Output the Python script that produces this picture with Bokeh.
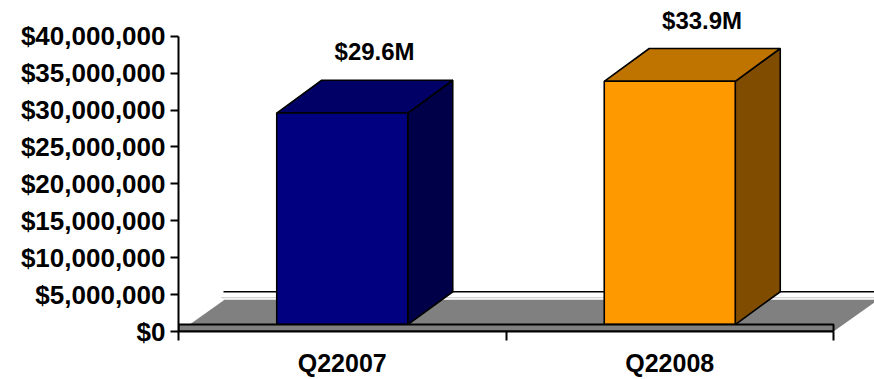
from bokeh.plotting import figure
from bokeh.models import Range1d, FixedTicker, NumeralTickFormatter
from bokeh.core.properties import value
from bokeh.embed import file_html
from bokeh.resources import INLINE

# ---- data ----
categories = ["Q22007", "Q22008"]
revenue = [29.6e6, 33.9e6]
value_labels = ["$29.6M", "$33.9M"]
y_ticks = [0, 5e6, 10e6, 15e6, 20e6, 25e6, 30e6, 35e6, 40e6]

# ---- style ----
front_colors = ["#000080", "#FF9900"]
top_colors = ["#000066", "#C07400"]
side_colors = ["#000048", "#804C00"]
FONT = "Liberation Sans"
PX_X = 327.5          # px per category unit
PX_Y = 297 / 40e6     # px per dollar
DX = 45 / PX_X        # depth offset in x units
DY = 33 / PX_Y        # depth offset in dollars
FLOOR = 7 / PX_Y      # floor slab thickness
BAR_W = 0.4
LABEL_GAP = 2.0e6

W, H = 874, 379
LEFT, BOTTOM = 178, 46
p = figure(width=W, height=H, output_backend="svg", toolbar_location=None,
           min_border_left=LEFT, min_border_right=0, min_border_top=0, min_border_bottom=BOTTOM)
p.x_range = Range1d(0, (W - LEFT) / PX_X)
p.y_range = Range1d(0, (H - BOTTOM) / PX_Y)
p.xgrid.visible = False
p.ygrid.visible = False
p.outline_line_color = None
p.background_fill_color = "white"
p.border_fill_color = "white"

n = len(categories)
xmax = p.x_range.end

# floor top face (gray)
p.patch([0, DX, xmax + DX, n + DX, n], [0, 4.31e6, 4.31e6, 4.31e6, 0],
        fill_color="#808080", line_color=None)
p.line([DX * 0.95, xmax], [4.58e6, 4.58e6], line_color="#C8C8C8", line_width=1)
p.line([DX, xmax], [FLOOR + DY, FLOOR + DY], line_color="black", line_width=1.5)
p.line([0.005, DX], [0.15e6, 4.31e6], line_color="white", line_width=1.2)

# bars
for i in range(n):
    xl = i + 0.5 - BAR_W / 2
    xr = i + 0.5 + BAR_W / 2
    v = revenue[i]
    # side face
    p.patch([xr, xr + DX, xr + DX, xr], [FLOOR, FLOOR + DY, v + DY, v],
            fill_color=side_colors[i], line_color="black", line_width=1.6)
    # top face
    p.patch([xl, xr, xr + DX, xl + DX], [v, v, v + DY, v + DY],
            fill_color=top_colors[i], line_color="black", line_width=1.6)
    # front face
    p.patch([xl, xr, xr, xl], [FLOOR, FLOOR, v, v],
            fill_color=front_colors[i], line_color="black", line_width=1.6)

# floor front slab
p.patch([0, n, n, 0], [0, 0, FLOOR, FLOOR], fill_color="#808080",
        line_color="black", line_width=2)

# value labels
p.text(x=[i + 0.5 + DX / 2 + 0.03 for i in range(n)],
       y=[v + DY + LABEL_GAP for v in revenue],
       text=value_labels, text_font=value(FONT), text_font_style="bold",
       text_font_size="24px", text_align="center", text_baseline="bottom",
       text_color="black")

# axes
ya = p.yaxis[0]
ya.ticker = FixedTicker(ticks=y_ticks)
ya.formatter = NumeralTickFormatter(format="$0,0")
ya.bounds = (0, 40e6)
ya.axis_line_width = 2
ya.major_tick_line_width = 2
ya.major_tick_out = 8
ya.major_tick_in = 0
ya.minor_tick_line_color = None
ya.major_label_standoff = 5
ya.major_label_text_font = FONT
ya.major_label_text_font_style = "bold"
ya.major_label_text_font_size = "26px"
ya.major_label_text_color = "black"

xa = p.xaxis[0]
xa.ticker = FixedTicker(ticks=[i + 0.5 for i in range(n)], minor_ticks=list(range(n + 1)))
xa.major_label_overrides = {i + 0.5: categories[i] for i in range(n)}
xa.bounds = (0, n)
xa.axis_line_width = 2
xa.major_tick_line_color = None
xa.major_tick_out = 0
xa.major_tick_in = 0
xa.minor_tick_line_width = 2
xa.minor_tick_out = 9
xa.minor_tick_in = 0
xa.major_label_standoff = 8
xa.major_label_text_font = FONT
xa.major_label_text_font_style = "bold"
xa.major_label_text_font_size = "25px"
xa.major_label_text_color = "black"

open("out.html", "w").write(file_html(p, INLINE))
